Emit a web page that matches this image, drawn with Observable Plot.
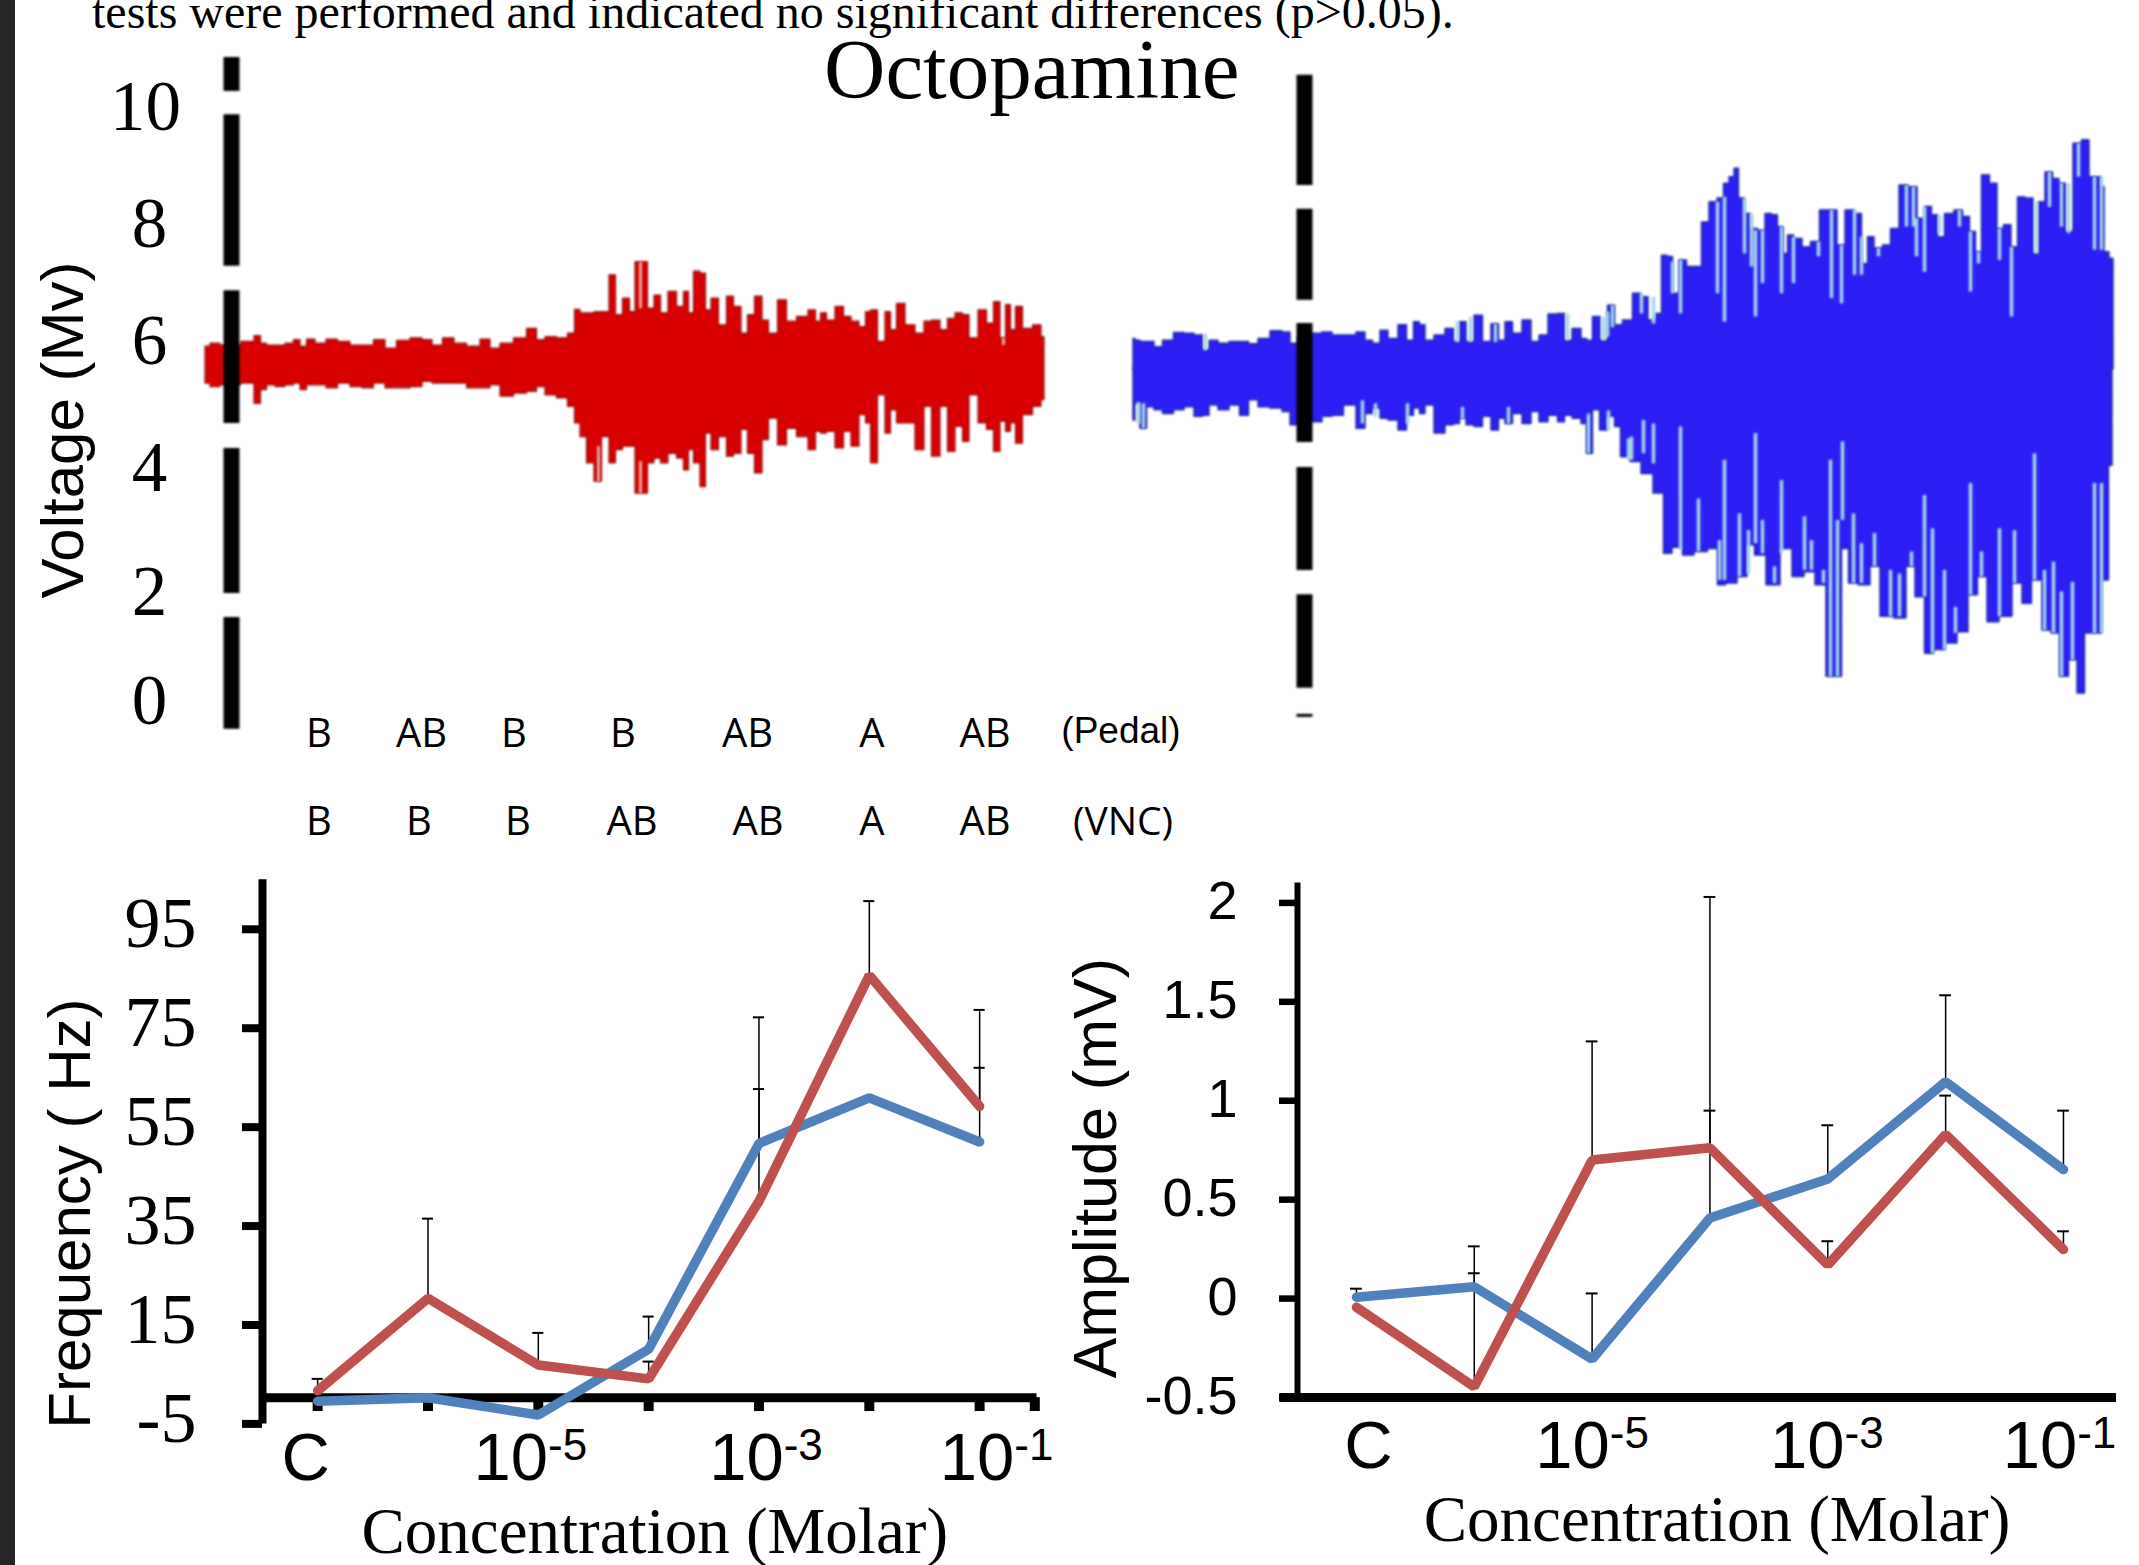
<!DOCTYPE html>
<html><head><meta charset="utf-8">
<script src="https://cdn.jsdelivr.net/npm/d3@7"></script>
<script src="https://cdn.jsdelivr.net/npm/@observablehq/plot@0.6"></script>
<style>
html,body{margin:0;padding:0;background:#fff;width:2139px;height:1565px;overflow:hidden}
#page{position:relative;width:2139px;height:1565px;overflow:hidden}
.abs{position:absolute;white-space:nowrap}
#page svg{position:absolute;overflow:visible}
.row{font-family:"Open Sans";font-size:40px;color:#000;transform:translate(-50%,-50%);line-height:1}
</style></head><body><div id="page"></div>
<script>
// ---------- Frequency / amplitude panels ----------
const concentrationTicks = [0,1,2,3,4,5,6];
const concentrationLabels = ["C","10-5","10-3","10-1"];
const frequencyTicks = [95,75,55,35,15,-5];
const amplitudeTicks = [2,1.5,1,0.5,0,-0.5];
const freqBlue = [-0.4,0.3,-3.2,10.1,51.7,60.9,52];
const freqRed  = [1.7,20.4,6.9,4.1,40,85.7,59.2];
const freqRedErr  = [4.1,36.5,13.4,7.6,62.7,100.7,78.7];
const freqBlueErr = [null,null,null,16.7,77.2,null,67];
const ampBlue = [0.007,0.06,-0.306,0.407,0.605,1.096,0.652];
const ampRed  = [-0.044,-0.446,0.70,0.762,0.17,0.83,0.248];
const ampBlueErr = [0.05,0.264,0.026,2.03,0.876,1.533,0.95];
const ampRedErr  = [null,0.128,1.30,0.95,0.29,1.026,0.34];
const lineBlue = "#4f81bd", lineRed = "#c0504d";

// ---------- Waveform traces (volts vs. time) ----------
const redTime = [205,215,225,238,243,250,258,263,270,280,290,297,303,310,320,332,343,357,367,380,390,403,417,427,437,448,460,473,487,493,507,520,533,540,550,563,572,577,583,590,598,605,613,618,627,632,638,645,650,658,663,673,680,687,690,697,703,708,714,723,730,737,745,750,759,765,772,783,790,803,813,818,823,830,840,847,855,863,868,873,882,888,893,900,910,920,928,935,945,950,960,965,973,983,990,997,1003,1008,1013,1018,1027,1038,1044];
const redTop = [5.98,6.03,6.00,6.00,6.06,6.06,6.16,6.03,6.00,6.00,6.03,6.09,5.98,6.10,6.03,6.10,6.06,6.00,6.00,6.09,5.95,6.08,6.12,6.09,6.00,6.12,6.03,5.98,6.10,5.95,6.03,6.12,6.28,6.09,6.14,6.12,6.20,6.60,6.54,6.54,6.56,6.56,7.18,6.51,6.79,6.56,7.40,7.40,6.62,6.84,6.54,6.90,6.65,6.90,6.54,7.24,7.21,6.59,6.79,6.34,6.82,6.65,6.20,6.51,6.82,6.42,6.20,6.76,6.40,6.48,6.59,6.40,6.54,6.42,6.65,6.48,6.40,6.31,6.56,6.59,6.06,6.56,6.26,6.70,6.34,6.20,6.40,6.42,6.26,6.45,6.54,6.51,6.12,6.59,6.37,6.73,6.12,6.68,6.26,6.65,6.28,6.34,6.14];
const redBottom = [5.36,5.30,5.33,5.33,5.36,5.36,5.02,5.25,5.33,5.30,5.33,5.36,5.25,5.33,5.33,5.28,5.36,5.30,5.28,5.36,5.28,5.28,5.30,5.39,5.36,5.36,5.36,5.28,5.28,5.33,5.14,5.19,5.22,5.30,5.16,5.11,4.97,4.69,4.46,4.02,3.71,4.46,4.02,4.24,4.30,4.30,3.51,3.51,4.02,4.10,4.02,4.18,4.10,3.90,4.24,4.02,3.62,4.52,4.24,4.46,4.13,4.18,4.58,4.18,3.85,4.41,4.77,4.32,4.60,4.46,4.24,4.55,4.52,4.55,4.27,4.55,4.30,4.83,4.69,4.02,5.16,4.52,4.91,4.69,4.69,4.24,4.97,4.13,4.97,4.21,4.63,4.38,5.16,4.69,4.58,4.21,4.72,4.55,4.69,4.35,4.83,4.97,5.08];
const redPaleTime = [598,640,640,1003];
const redPaleHigh = [4.30,7.40,4.05,6.12];
const redPaleLow  = [3.71,6.62,3.51,6.0];

const blueTopTime = [1133,1137,1143,1150,1158,1167,1180,1188,1200,1205,1213,1223,1235,1244,1253,1263,1277,1287,1293,1303,1317,1327,1337,1350,1362,1368,1377,1383,1393,1403,1410,1417,1422,1428,1440,1450,1457,1462,1470,1478,1487,1495,1502,1508,1517,1527,1535,1543,1553,1562,1567,1577,1585,1588,1597,1603,1612,1617,1628,1637,1644,1652,1659,1664,1670,1675,1683,1690,1698,1705,1713,1721,1726,1732,1736,1741,1747,1753,1762,1768,1775,1780,1786,1789,1798,1806,1815,1824,1834,1840,1850,1858,1865,1870,1878,1887,1894,1904,1912,1922,1928,1935,1940,1949,1959,1966,1973,1978,1985,1994,2000,2007,2015,2020,2030,2036,2041,2049,2056,2062,2069,2077,2086,2092,2098,2103,2105,2113];
const blueTop = [6.11,6.08,6.06,6.06,5.97,6.08,6.21,6.20,6.17,5.92,6.08,6.03,6.06,6.06,6.02,6.11,6.24,6.22,6.03,6.14,6.20,6.22,6.17,6.17,6.22,6.08,6.03,6.25,6.11,6.34,6.08,6.39,6.34,6.08,6.17,6.28,6.06,6.39,6.06,6.50,6.06,6.36,6.08,6.39,6.20,6.42,6.06,6.17,6.52,6.53,6.08,6.28,6.11,6.08,6.48,6.08,6.67,6.34,6.42,6.87,6.81,6.42,6.53,7.51,7.49,6.87,7.43,7.32,7.32,8.07,8.41,8.47,8.72,8.83,8.97,8.47,8.21,7.96,7.93,8.21,8.19,7.99,7.54,7.85,7.79,7.65,7.74,8.27,8.27,7.68,8.27,8.21,7.37,7.82,7.63,7.68,7.96,8.69,8.66,8.13,8.33,8.19,7.82,8.21,8.27,8.16,7.91,7.57,8.86,8.72,7.96,8.02,7.65,8.49,8.47,7.54,8.41,8.91,8.80,8.72,7.91,9.39,9.45,8.83,8.83,8.66,7.57,7.46];
const blueBottomTime = [1133,1137,1143,1150,1158,1167,1180,1188,1200,1205,1213,1223,1235,1244,1253,1263,1277,1287,1293,1303,1317,1327,1337,1350,1362,1368,1377,1383,1393,1403,1410,1417,1422,1428,1440,1450,1457,1462,1470,1478,1487,1495,1502,1508,1517,1527,1535,1543,1553,1562,1567,1577,1585,1588,1597,1602,1612,1617,1624,1636,1646,1660,1667,1677,1688,1700,1715,1720,1731,1743,1751,1758,1774,1786,1798,1810,1820,1832,1837,1846,1851,1865,1875,1885,1903,1909,1921,1928,1939,1951,1963,1973,1982,1992,2006,2018,2026,2037,2047,2055,2064,2073,2081,2088,2098,2105,2112];
const blueBottom = [4.74,5.02,4.60,4.96,4.91,4.85,4.91,4.96,4.80,4.82,4.99,4.91,4.99,4.82,5.08,4.96,4.94,4.88,4.66,4.74,4.71,4.80,4.82,4.99,4.60,4.85,4.94,4.77,4.74,4.57,4.82,4.94,4.85,4.99,4.52,4.66,4.68,4.77,4.66,4.63,4.80,4.57,4.77,4.68,4.85,4.68,4.88,4.71,4.82,4.71,4.82,4.77,4.68,4.18,4.91,4.57,4.80,4.63,4.12,4.04,3.84,3.51,2.50,2.60,2.47,2.53,2.58,1.97,2.00,2.11,2.64,2.47,1.97,2.58,2.11,2.19,1.97,0.43,0.43,2.58,2.00,1.97,2.28,1.44,1.41,2.28,1.77,0.82,0.88,0.99,1.18,1.80,2.11,1.35,1.44,2.00,1.66,2.05,1.21,1.16,0.43,0.71,0.15,1.16,1.16,2.05,3.98];
const slitTime = [1205,1457,1470,1495,1567,1603,1612,1607,1641,1653,1672,1680,1717,1724,1744,1751,1755,1762,1781,1793,1818,1831,1841,1854,1861,1878,1906,1913,1916,1924,1939,1959,1970,1978,1999,2011,2036,2049,2061,2068,2078,2094,2101,
  1138,1143,1362,1375,1407,1462,1508,1588,1608,1628,1631,1643,1653,1680,1698,1719,1724,1739,1748,1755,1762,1774,1781,1804,1811,1823,1830,1842,1837,1853,1861,1874,1890,1899,1911,1924,1932,1944,1955,1970,1981,1999,2014,2034,2044,2053,2061,2072,2094,2101];
const slitHigh = [6.19,6.39,6.47,6.36,6.53,6.47,6.67,6.56,6.87,6.81,7.40,7.43,8.41,8.49,8.47,8.21,7.93,7.93,7.99,7.82,7.74,8.27,7.68,8.27,7.82,7.63,8.69,8.66,8.13,8.33,8.19,8.27,7.91,7.57,7.96,7.65,8.41,8.91,8.72,8.72,9.39,8.83,8.83,
  5.04,5.02,5.07,5.02,5.02,4.96,4.96,4.85,4.90,4.43,4.46,4.74,4.68,4.63,3.42,2.72,4.07,3.17,2.89,4.52,3.06,2.28,3.73,3.12,2.72,2.22,4.07,4.38,3.06,3.17,2.67,2.84,2.22,2.16,2.53,3.48,2.92,2.22,1.60,3.68,2.53,2.92,2.89,4.18,2.22,2.36,1.86,2.02,3.68,3.68];
const slitLow = [5.91,6.05,6.05,6.05,6.08,6.08,6.30,6.14,6.53,6.36,6.87,6.53,6.87,6.39,7.54,7.32,6.48,7.04,6.87,7.04,7.49,6.79,6.70,7.18,7.18,7.49,7.99,7.99,7.49,7.23,7.88,7.99,6.90,7.37,7.43,6.48,7.54,8.32,7.99,7.88,8.83,7.60,7.60,
  4.68,4.60,4.68,4.79,4.68,4.76,4.68,4.18,4.57,4.07,4.07,4.18,4.01,2.56,2.53,2.05,2.05,2.11,2.16,2.67,2.50,2.00,2.50,2.22,2.22,2.00,0.43,3.06,0.43,2.00,2.00,2.28,1.44,1.44,2.28,1.77,0.82,0.88,1.16,1.80,2.11,1.44,2.00,2.05,1.21,1.16,0.43,0.71,1.16,1.16];

// Dashed vertical "axes" (volts at which each black segment starts and stops)
const leftAxisStart = [10.84,9.88,6.92,4.27,1.43];
const leftAxisEnd   = [10.27,7.33,4.69,1.83,-0.45];
const rightAxisStart = [10.54,8.29,6.37,3.95,1.81,-0.20];
const rightAxisEnd   = [8.69,6.76,4.37,2.22,0.24,-0.25];
const voltageTicks = [10,8,6,4,2,0];

const pedalLetters = ["B","AB","B","B","AB","A","AB"];
const vncLetters   = ["B","B","B","AB","AB","A","AB"];

const page = document.getElementById("page");
const serif = "Liberation Serif", sans = "Liberation Sans";

function place(svg,left,top){ svg.style.left=left+"px"; svg.style.top=top+"px"; page.appendChild(svg); return svg; }
function html(text,left,top,css){ const d=document.createElement("div"); d.className="abs"; d.textContent=text; d.style.left=left+"px"; d.style.top=top+"px"; d.style.cssText+=css||""; page.appendChild(d); return d; }
function superscripts(svg){
  svg.querySelectorAll("text").forEach(t=>{
    const m=/^10(-\d)$/.exec(t.textContent.trim()); if(!m) return;
    t.textContent="";
    const a=document.createElementNS("http://www.w3.org/2000/svg","tspan"); a.textContent="10";
    const b=document.createElementNS("http://www.w3.org/2000/svg","tspan"); b.textContent=m[1];
    b.setAttribute("font-size","44"); b.setAttribute("dy","-20");
    t.appendChild(a); t.appendChild(b);
  });
}
function soften(svg){ svg.querySelectorAll('g[aria-label="area"], g[aria-label="rule"]').forEach(g=>{ g.style.filter="blur(1px)"; }); return svg; }
const rows = (...cols)=>cols[0].map((_,i)=>cols.map(c=>c[i]));

function linePanel(cfg){
  const tbl = s => concentrationTicks.map((x,i)=>({x,v:s.v[i],e:s.e[i]})).filter(d=>d.e!=null);
  const errs = [...tbl({v:cfg.blue,e:cfg.blueErr}),...tbl({v:cfg.red,e:cfg.redErr})];
  const marks = [
    Plot.ruleX(errs,{x:"x",y1:"v",y2:"e",stroke:"#000",strokeWidth:1.5}),
    Plot.ruleY(errs,{y:"e",x1:d=>d.x-.05,x2:d=>d.x+.05,stroke:"#000",strokeWidth:2}),
    Plot.ruleX([-0.5],{y1:cfg.yDomain[0],y2:cfg.yTop,stroke:"#000",strokeWidth:cfg.axisW}),
    Plot.ruleY([cfg.zero],{x1:cfg.xLeft,x2:cfg.xDomain[1],stroke:"#000",strokeWidth:9}),
    Plot.axisY({ticks:cfg.yTicks,tickSize:cfg.tickSize,strokeWidth:cfg.tickW,fill:"none",label:null}),
    Plot.axisY({ticks:cfg.yTicks,tickFormat:d=>String(d),tickSize:0,stroke:"none",tickPadding:cfg.tickPad,dy:cfg.yLabelDy,fontSize:cfg.yFont,fontFamily:cfg.yFamily,label:null,fill:"#000"}),
    ...(cfg.xTicks?[Plot.ruleX(cfg.xTicks,{y1:cfg.zero,y2:cfg.xTickEnd,stroke:"#000",strokeWidth:10})]:[]),
    Plot.line(concentrationTicks,{x:d=>d,y:(d,i)=>cfg.blue[i],stroke:lineBlue,strokeWidth:9.5,strokeLinejoin:"miter"}),
    Plot.line(concentrationTicks,{x:d=>d,y:(d,i)=>cfg.red[i],stroke:lineRed,strokeWidth:9.5,strokeLinejoin:"miter"}),
    ...concentrationLabels.map((l,i)=>Plot.text([l],{x:()=>i*2,frameAnchor:"bottom",text:d=>d,dx:cfg.labelDx[i],dy:cfg.labelDy,fontFamily:sans,fontSize:67,lineAnchor:"middle",fill:"#000"})),
    Plot.text(["Concentration (Molar)"],{frameAnchor:"bottom",dx:cfg.titleDx,dy:cfg.titleDy,fontFamily:serif,fontSize:65,lineAnchor:"middle",text:d=>d,fill:"#000"}),
    Plot.text([cfg.yTitle],{frameAnchor:"left",textAnchor:"middle",rotate:-90,dx:cfg.yTitleDx,dy:cfg.yTitleDy,fontFamily:sans,fontSize:cfg.yTitleSize,text:d=>d,lineAnchor:"middle",fill:"#000"})
  ];
  const svg = Plot.plot({width:cfg.w,height:725,marginLeft:cfg.ml,marginRight:cfg.mr,marginTop:cfg.mt,marginBottom:cfg.mb,
    x:{domain:cfg.xDomain,axis:null},y:{domain:cfg.yDomain,axis:null},style:{background:"transparent",overflow:"visible"},marks});
  superscripts(svg);
  return svg;
}

// Frequency
place(linePanel({w:1080,ml:262,mr:43.5,mt:88.8,mb:141.6,xDomain:[-0.5,6.52],xLeft:-0.5,yDomain:[-5,95],yTop:105,zero:0.3,axisW:8,
  yTicks:frequencyTicks,tickSize:20,tickPad:66,tickW:8,yFont:72,yFamily:serif,yLabelDy:-5,blue:freqBlue,red:freqRed,blueErr:freqBlueErr,redErr:freqRedErr,
  xTicks:[0,1,2,3,4,5,6,6.5],xTickEnd:-2.5,labelDx:[-12,-8,7,17],labelDy:35,titleDx:5,titleDy:108,
  yTitle:"Frequency ( Hz)",yTitleDx:-192,yTitleDy:37,yTitleSize:60}),0,840);
// Amplitude
place(linePanel({w:1079,ml:237,mr:23,mt:62.4,mb:168,xDomain:[-0.5,6.45],xLeft:-0.65,yDomain:[-0.5,2],yTop:2.1,zero:-0.5,axisW:6,
  yTicks:amplitudeTicks,tickSize:18,tickPad:60,tickW:6.5,yFont:54,yFamily:sans,yLabelDy:-1,blue:ampBlue,red:ampRed,blueErr:ampBlueErr,redErr:ampRedErr,
  xTicks:null,labelDx:[12,0,-1,-4],labelDy:49,titleDx:10,titleDy:123,
  yTitle:"Amplitude (mV)",yTitleDx:-201,yTitleDy:18,yTitleSize:61}),1060,840);

// Traces
const traceOpts = (dom,w)=>({width:w,height:780,marginLeft:0,marginRight:0,marginTop:107,marginBottom:78,
  x:{domain:dom,axis:null},y:{domain:[0,10],axis:null},style:{background:"transparent",overflow:"visible"}});

place(soften(Plot.plot({...traceOpts([0,1100],1100),marks:[
  Plot.areaY(rows(redTime,redTop,redBottom),{x:d=>d[0],y1:d=>d[2],y2:d=>d[1],curve:"step",fill:"#d80000",stroke:"#8c1212",strokeWidth:1.2}),
  Plot.ruleX(rows(redPaleTime,redPaleHigh,redPaleLow),{x:d=>d[0],y1:d=>d[2],y2:d=>d[1],stroke:"#e9a9a0",strokeWidth:3}),
  Plot.ruleX(rows(leftAxisStart,leftAxisEnd),{x:()=>231,y1:d=>d[0],y2:d=>d[1],stroke:"#000",strokeWidth:16}),
  ...voltageTicks.map((v,i)=>Plot.text([v],{x:()=>v===10?145:149,y:d=>d,text:d=>String(d),dy:[0,-2,-4,4,9,-1][i],fontFamily:serif,fontSize:71,lineAnchor:"middle",fill:"#000"})),
  Plot.text(["Voltage (Mv)"],{frameAnchor:"left",textAnchor:"middle",rotate:-90,dx:63,dy:25,fontFamily:sans,fontSize:60,text:d=>d,lineAnchor:"middle",fill:"#000"})
]})),0,0);

place(soften(Plot.plot({...traceOpts([1100,2139],1039),marks:[
  Plot.areaY(rows(blueTopTime,blueTop),{x:d=>d[0],y1:()=>5.6,y2:d=>d[1],curve:"step",fill:"#2c1ff5",stroke:"#1b2a9c",strokeWidth:1.4}),
  Plot.areaY(rows(blueBottomTime,blueBottom),{x:d=>d[0],y1:()=>5.6,y2:d=>d[1],curve:"step",fill:"#2c1ff5",stroke:"#1b2a9c",strokeWidth:1.4}),
  Plot.ruleY([5.6],{x1:()=>1134,x2:()=>2111,stroke:"#2c1ff5",strokeWidth:4}),
  Plot.ruleX(rows(slitTime,slitHigh,slitLow),{x:d=>d[0],y1:d=>d[2],y2:d=>d[1],stroke:"#a4d6e8",strokeWidth:3.5}),
  Plot.ruleX(rows(rightAxisStart,rightAxisEnd),{x:()=>1304,y1:d=>d[0],y2:d=>d[1],stroke:"#000",strokeWidth:16})
]})),1100,0);

// Text outside the plots
html("tests were performed and indicated no significant differences (p>0.05).",92,-13,`font-family:"Liberation Serif";font-size:48px;line-height:50px;color:#000`);
html("Octopamine",824,21,`font-family:"Liberation Serif";font-size:85px;line-height:96px;color:#000`);
const pedalX=[319,421.5,514,623,747.5,872,985], vncX=[319,419,518,632,758,872,985];
pedalLetters.forEach((l,i)=>{const d=html(l,pedalX[i],732); d.classList.add("row");});
vncLetters.forEach((l,i)=>{const d=html(l,vncX[i],820); d.classList.add("row");});
html("(Pedal)",1121,730,`font-family:"Liberation Sans";font-size:37px;line-height:1;transform:translate(-50%,-50%)`);
html("(VNC)",1123,819,`font-family:"Open Sans";font-size:39px;line-height:1;transform:translate(-50%,-50%)`);
html("",0,0,"width:15px;height:1565px;background:#262626");
</script></body></html>
